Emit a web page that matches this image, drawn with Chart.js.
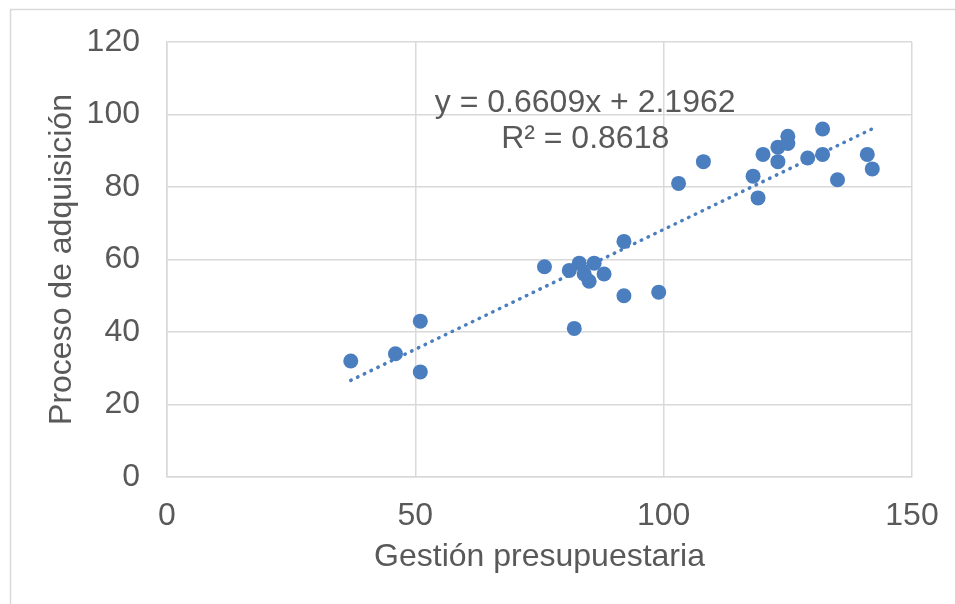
<!DOCTYPE html>
<html>
<head>
<meta charset="utf-8">
<script src="https://cdn.jsdelivr.net/npm/chart.js@4/dist/chart.umd.min.js"></script>
<style>
    html, body { margin: 0; padding: 0; background: #FFFFFF; }
    #wrap { width: 955px; height: 604px; }
</style>
</head>
<body>
<div id="wrap"><canvas id="scatterChart" width="955" height="604"></canvas></div>
<script>
// Datos
const gestion = [37, 46, 51, 51, 76, 81, 83, 84, 85, 86, 88, 82, 92, 92, 99,
    103, 108, 118, 119, 120, 123, 123, 125, 125, 129, 132, 132, 135, 141, 142];
const adquisicion = [32, 34, 43, 29, 58, 57, 59, 56, 54, 59, 56, 41, 65, 50, 51,
    81, 87, 83, 77, 89, 91, 87, 94, 92, 88, 96, 89, 82, 89, 85];

// Línea de tendencia (Excel)
const slope = 0.6609;
const intercept = 2.1962;
const equationLines = ['y = 0.6609x + 2.1962', 'R² = 0.8618'];

const xTicks = [0, 50, 100, 150];
const yTicks = [0, 20, 40, 60, 80, 100, 120];

const BLUE = '#4A7EBF';
const TEXT = '#595959';
const GRID = '#D9D9D9';
const FONT = '"Liberation Sans", Arial, sans-serif';

const points = gestion.map((x, i) => ({ x: x, y: adquisicion[i] }));
const xMin = Math.min(...gestion);
const xMax = Math.max(...gestion);
const trend = [xMin, xMax].map(x => ({ x: x, y: slope * x + intercept }));

/**
 * Ecuación y borde del gráfico
 */
const extrasPlugin = {
    id: 'extras',
    beforeDraw(chart) {
        const ctx = chart.ctx;
        ctx.save();
        ctx.strokeStyle = GRID;
        ctx.lineWidth = 1.5;
        ctx.strokeRect(10.5, 9.5, 1000, 1000);
        ctx.restore();
    },
    afterDatasetsDraw(chart) {
        const ctx = chart.ctx;
        const xs = chart.scales.x;
        const ys = chart.scales.y;
        const cx = xs.getPixelForValue(84.2);
        const cy = ys.getPixelForValue(100.7);
        ctx.save();
        ctx.fillStyle = TEXT;
        ctx.font = '32px ' + FONT;
        ctx.textAlign = 'center';
        ctx.textBaseline = 'alphabetic';
        equationLines.forEach((t, i) => ctx.fillText(t, cx, cy + i * 36));
        ctx.restore();
    }
};

new Chart(document.getElementById('scatterChart'), {
    type: 'scatter',
    data: {
        datasets: [{
            label: 'Datos',
            data: points,
            backgroundColor: BLUE,
            borderColor: BLUE,
            borderWidth: 0,
            pointRadius: 7.5,
            order: 1
        }, {
            label: 'Tendencia',
            data: trend,
            showLine: true,
            borderColor: BLUE,
            borderWidth: 3.5,
            borderDash: [0.5, 7],
            borderCapStyle: 'round',
            pointRadius: 0,
            order: 2
        }]
    },
    options: {
        responsive: false,
        animation: false,
        devicePixelRatio: 1,
        layout: { padding: { top: 42, right: 43, left: 0, bottom: 0 } },
        plugins: {
            legend: { display: false },
            tooltip: { enabled: false }
        },
        scales: {
            x: {
                type: 'linear',
                min: 0,
                max: 150,
                afterBuildTicks: s => { s.ticks = xTicks.map(v => ({ value: v })); },
                afterFit: s => { s.height = 127; },
                ticks: { color: TEXT, font: { family: FONT, size: 32 }, padding: 0 },
                // tick marks invisibles: sólo separan las etiquetas del eje
                grid: { color: GRID, lineWidth: 1.5, drawTicks: true, tickLength: 20, tickColor: 'rgba(0,0,0,0)' },
                border: { color: GRID, width: 1.5 },
                title: {
                    display: true,
                    text: 'Gestión presupuestaria',
                    color: TEXT,
                    font: { family: FONT, size: 32 },
                    padding: { top: 0, bottom: 28 }
                }
            },
            y: {
                type: 'linear',
                min: 0,
                max: 120,
                afterBuildTicks: s => { s.ticks = yTicks.map(v => ({ value: v })); },
                afterFit: s => { s.width = 167; },
                ticks: { color: TEXT, font: { family: FONT, size: 32 }, padding: 0 },
                grid: { color: GRID, lineWidth: 1.5, drawTicks: true, tickLength: 27, tickColor: 'rgba(0,0,0,0)' },
                border: { color: GRID, width: 1.5 },
                title: {
                    display: true,
                    text: 'Proceso de adquisición',
                    color: TEXT,
                    font: { family: FONT, size: 32 },
                    padding: { top: 43, bottom: 0 }
                }
            }
        }
    },
    plugins: [extrasPlugin]
});
</script>
</body>
</html>
